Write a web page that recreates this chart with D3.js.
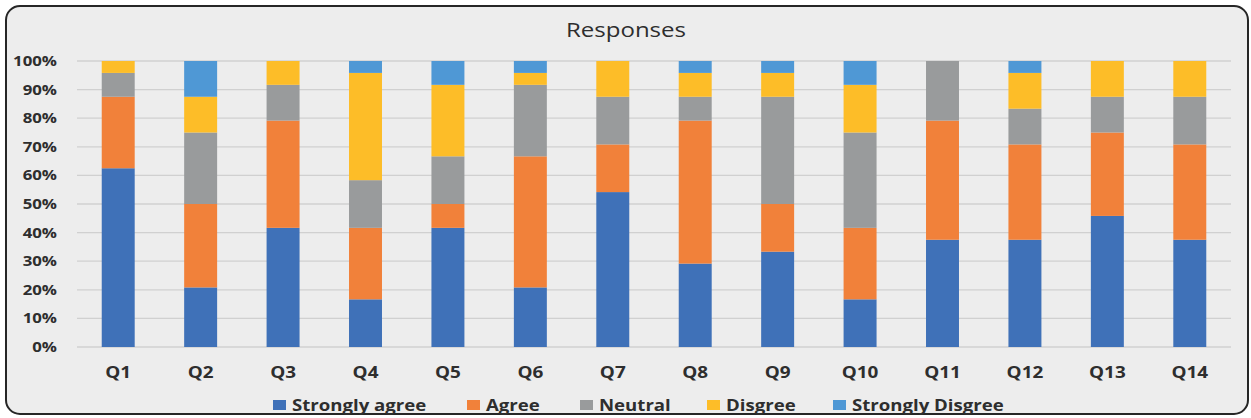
<!DOCTYPE html>
<html>
<head>
<meta charset="utf-8">
<script src="https://cdn.jsdelivr.net/npm/d3@7"></script>
<style>
  html, body { margin: 0; padding: 0; background: #ffffff; }
  svg { display: block; font-family: "Open Sans", "DejaVu Sans", sans-serif; }
</style>
</head>
<body>
<svg id="chart" width="1251" height="418"></svg>
<script>
// Survey questions
const questions = ["Q1","Q2","Q3","Q4","Q5","Q6","Q7","Q8","Q9","Q10","Q11","Q12","Q13","Q14"];

// Response categories (stack order, bottom to top)
const categories = ["Strongly agree","Agree","Neutral","Disgree","Strongly Disgree"];

// Number of respondents (out of 24) choosing each answer, per question
const stronglyAgree    = [15, 5, 10, 4, 10, 5, 13, 7, 8, 4, 9, 9, 11, 9];
const agree            = [ 6, 7,  9, 6,  2, 11, 4, 12, 4, 6, 10, 8, 7, 8];
const neutral          = [ 2, 6,  3, 4,  4, 6,  4, 2, 9, 8, 5, 3, 3, 4];
const disagree         = [ 1, 3,  2, 9,  6, 1,  3, 2, 2, 4, 0, 3, 3, 3];
const stronglyDisagree = [ 0, 3,  0, 1,  2, 1,  0, 1, 1, 2, 0, 1, 0, 0];

const yTicks = [0, 0.1, 0.2, 0.3, 0.4, 0.5, 0.6, 0.7, 0.8, 0.9, 1.0];

const colors = ["#3f71b8", "#f1813a", "#999b9c", "#fdbd28", "#4f98d5"];
const textColor = "#2e2e2e";

const seriesValues = [stronglyAgree, agree, neutral, disagree, stronglyDisagree];
const rows = questions.map((q, i) => {
  const r = { question: q };
  categories.forEach((c, k) => { r[c] = seriesValues[k][i]; });
  return r;
});

// Widen text glyphs a little (wide-set label style)
function widen(sel, k) {
  sel.each(function () {
    const len = this.getComputedTextLength();
    d3.select(this)
      .attr("textLength", len * k)
      .attr("lengthAdjust", "spacingAndGlyphs");
  });
}

const svg = d3.select("#chart");

// Chart area frame
svg.append("rect")
  .attr("x", 6).attr("y", 6)
  .attr("width", 1242).attr("height", 408)
  .attr("rx", 14).attr("ry", 14)
  .attr("fill", "#ededed")
  .attr("stroke", "#262626")
  .attr("stroke-width", 2);

const plot = { left: 77, right: 1231, top: 61, bottom: 347 };

const x = d3.scaleBand()
  .domain(questions)
  .range([plot.left, plot.right])
  .paddingInner(0.6)
  .paddingOuter(0.3);

const y = d3.scaleLinear()
  .domain([0, 1])
  .range([plot.bottom, plot.top]);

// Gridlines
svg.append("g")
  .selectAll("line")
  .data(yTicks)
  .join("line")
  .attr("x1", plot.left).attr("x2", plot.right)
  .attr("y1", d => y(d)).attr("y2", d => y(d))
  .attr("stroke", "#d0d0d0")
  .attr("stroke-width", 1.3);

// Y axis labels
const yAxis = d3.axisLeft(y)
  .tickValues(yTicks)
  .tickFormat(d3.format(".0%"))
  .tickSize(0)
  .tickPadding(0);
const gy = svg.append("g")
  .attr("transform", `translate(57,0)`)
  .call(yAxis);
gy.select(".domain").remove();
gy.selectAll("text")
  .attr("font-size", 14)
  .attr("font-weight", 700)
  .attr("fill", textColor)
  .attr("font-family", "'Open Sans', sans-serif")
  .call(widen, 1.2);

// Stacked bars, normalised to 100%
const stack = d3.stack()
  .keys(categories)
  .offset(d3.stackOffsetExpand);
const layers = stack(rows);

svg.append("g")
  .selectAll("g")
  .data(layers)
  .join("g")
  .attr("fill", (d, i) => colors[i])
  .selectAll("rect")
  .data(d => d)
  .join("rect")
  .attr("x", d => x(d.data.question))
  .attr("width", x.bandwidth())
  .attr("y", d => y(d[1]))
  .attr("height", d => y(d[0]) - y(d[1]));

// X axis labels
const xAxis = d3.axisBottom(x).tickSize(0).tickPadding(0);
const gx = svg.append("g")
  .attr("transform", `translate(0,${plot.bottom + 31})`)
  .call(xAxis);
gx.select(".domain").remove();
gx.selectAll("text")
  .attr("dy", 0)
  .attr("font-size", 15.5)
  .attr("font-weight", 700)
  .attr("fill", textColor)
  .attr("font-family", "'Open Sans', sans-serif")
  .call(widen, 1.22);

// Title
svg.append("text")
  .attr("x", 626).attr("y", 37)
  .attr("text-anchor", "middle")
  .attr("font-size", 20)
  .attr("fill", textColor)
  .text("Responses")
  .call(widen, 1.2);

// Legend
const legendX = [273, 467, 580, 707, 833];
const legend = svg.append("g")
  .selectAll("g")
  .data(categories)
  .join("g")
  .attr("transform", (d, i) => `translate(${legendX[i]},405)`);
legend.append("rect")
  .attr("x", 0).attr("y", -5)
  .attr("width", 13).attr("height", 10)
  .attr("fill", (d, i) => colors[i]);
legend.append("text")
  .attr("x", 19).attr("y", 6)
  .attr("font-size", 15.5)
  .attr("font-weight", 700)
  .attr("fill", textColor)
  .text(d => d)
  .call(widen, 1.2);
</script>
</body>
</html>
